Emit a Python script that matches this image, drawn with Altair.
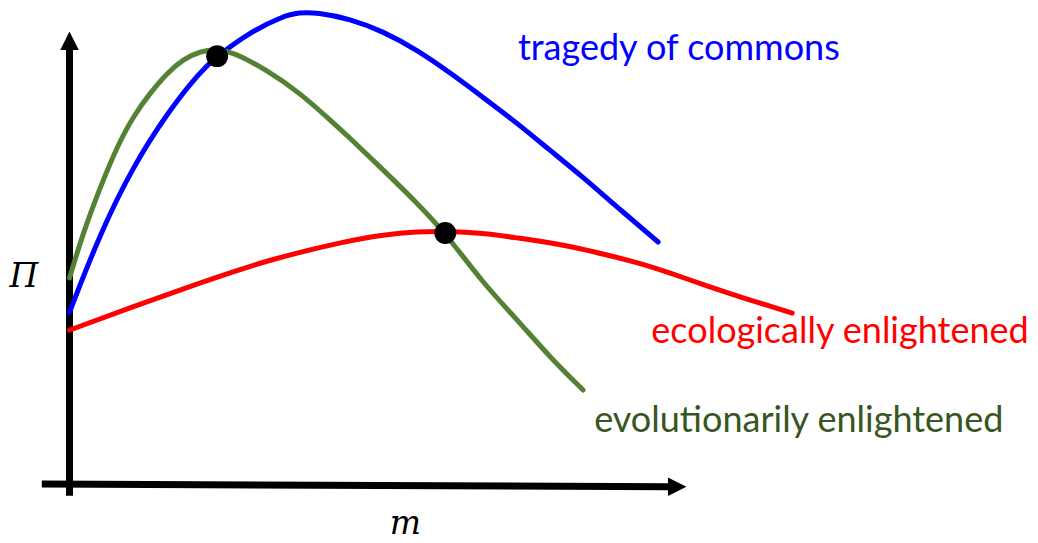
import altair as alt
import pandas as pd

# ---- data (m on x, Pi on y; arbitrary units) ----
blue_m  = [0.00, 0.50, 1.03, 1.59, 2.12, 2.40, 2.93, 3.47, 3.74, 4.02, 4.56, 5.10, 5.65, 6.19, 6.72, 7.28, 7.81, 8.35, 8.90, 9.57]
blue_p  = [3.84, 5.60, 7.07, 8.27, 9.18, 9.53, 10.06, 10.42, 10.50, 10.50, 10.36, 10.08, 9.67, 9.16, 8.62, 8.04, 7.44, 6.84, 6.18, 5.40]

green_m = [0.00, 0.22, 0.50, 0.77, 1.03, 1.31, 1.59, 1.85, 2.12, 2.40, 2.66, 3.21, 3.75, 4.28, 4.56, 5.10, 5.65, 6.11, 6.72, 7.28, 7.81, 8.35]
green_p = [4.60, 5.60, 6.62, 7.51, 8.18, 8.71, 9.16, 9.46, 9.64, 9.68, 9.62, 9.22, 8.71, 8.06, 7.71, 7.00, 6.27, 5.60, 4.49, 3.67, 2.84, 2.11]

red_m   = [0.00, 1.03, 2.12, 3.21, 4.56, 5.10, 5.65, 6.11, 6.72, 7.28, 7.65, 8.19, 8.74, 9.28, 9.81, 10.37, 10.90, 11.75]
red_p   = [3.44, 3.96, 4.49, 5.00, 5.44, 5.56, 5.63, 5.64, 5.60, 5.49, 5.42, 5.29, 5.11, 4.93, 4.69, 4.42, 4.18, 3.82]

dot_m   = [2.40, 6.11]
dot_p   = [9.53, 5.60]

label_text  = ["tragedy of commons", "ecologically enlightened", "evolutionarily enlightened"]
label_m     = [7.29, 9.46, 8.53]
label_p     = [9.44, 3.16, 1.18]
label_color = ["#0000FF", "#FF0000", "#375623"]

axis_names  = ["Π", "m"]
axis_name_m = [-0.74, 5.46]
axis_name_p = [4.40, -1.08]

# axis arrows (shaft ends and arrow-head centres)
yaxis_m = [0.0, 0.0]
yaxis_p = [-0.24, 9.67]
xaxis_m = [-0.45, 9.76]
xaxis_p = [0.02, -0.04]
head_m  = [0.0, 9.88]
head_p  = [9.87, -0.04]
head_shape = ["M-1,1L0,-1L1,1Z", "M-1,-1L1,0L-1,1Z"]

X_DOMAIN = [-1.0, 15.6]
Y_DOMAIN = [-1.29, 10.6]

xs = alt.Scale(domain=X_DOMAIN, nice=False, zero=False)
ys = alt.Scale(domain=Y_DOMAIN, nice=False, zero=False)


def xy():
    return dict(x=alt.X("m:Q", scale=xs, axis=None), y=alt.Y("p:Q", scale=ys, axis=None))


def curve(ms, ps, color, width=5, interp="basis", cap="round"):
    df = pd.DataFrame({"m": ms, "p": ps, "o": range(len(ms))})
    return alt.Chart(df).mark_line(color=color, strokeWidth=width, interpolate=interp,
                                   strokeCap=cap, strokeJoin="round").encode(
        order="o:Q", **xy())


yaxis = curve(yaxis_m, yaxis_p, "#000000", 7, "linear", "butt")
xaxis = curve(xaxis_m, xaxis_p, "#000000", 7, "linear", "butt")

heads = []
for hm, hp, shp in zip(head_m, head_p, head_shape):
    hdf = pd.DataFrame({"m": [hm], "p": [hp]})
    heads.append(alt.Chart(hdf).mark_point(shape=shp, filled=True, size=342, color="#000000",
                                           opacity=1, strokeWidth=0).encode(**xy()))

blue = curve(blue_m, blue_p, "#0000FF")
green = curve(green_m, green_p, "#548235")
red = curve(red_m, red_p, "#FF0000")

ddf = pd.DataFrame({"m": dot_m, "p": dot_p})
dots = alt.Chart(ddf).mark_circle(size=480, color="#000000", opacity=1).encode(**xy())

ldf = pd.DataFrame({"m": label_m, "p": label_p, "t": label_text, "c": label_color})
labels = alt.Chart(ldf).mark_text(align="left", baseline="alphabetic", font="Lato", fontSize=36).encode(
    text="t:N", color=alt.Color("c:N", scale=None), **xy())

adf = pd.DataFrame({"m": axis_name_m, "p": axis_name_p, "t": axis_names})
axis_labels = alt.Chart(adf).mark_text(align="center", baseline="alphabetic", font="DejaVu Serif",
                                       fontStyle="italic", fontSize=33, color="#000000").encode(
    text="t:N", **xy())

chart = alt.layer(yaxis, xaxis, *heads, red, blue, green, dots, labels, axis_labels).properties(
    width=1021, height=535, padding=0, autosize="none", background="#FFFFFF"
).configure_view(stroke=None)

chart.save("out.html", embed_options={"renderer": "svg", "actions": False})
